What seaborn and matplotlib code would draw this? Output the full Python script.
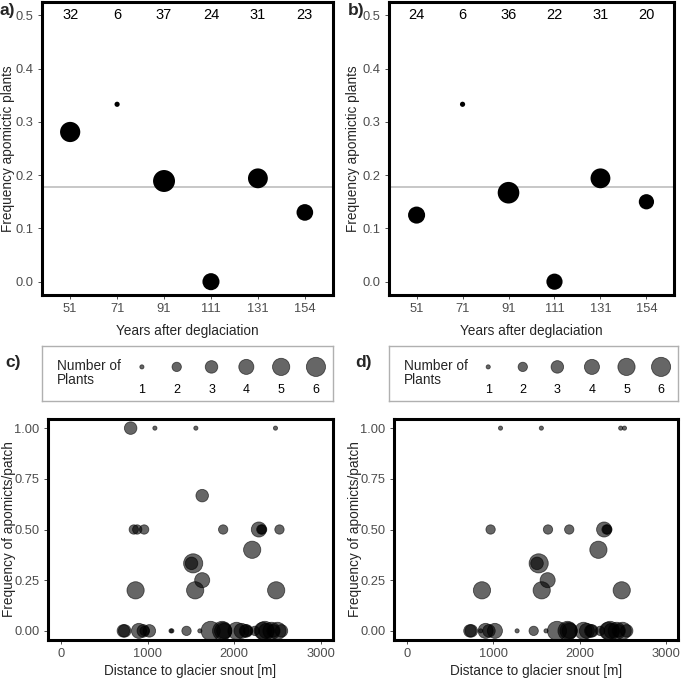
import matplotlib
import matplotlib.pyplot as plt
import numpy as np
import pandas as pd
import seaborn as sns

matplotlib.use("Agg")

# top panels: per-year frequency of apomictic plants
years = ["51", "71", "91", "111", "131", "154"]
freq_a = [0.281, 0.333, 0.189, 0.0, 0.194, 0.130]
n_a = [32, 6, 37, 24, 31, 23]
freq_b = [0.125, 0.333, 0.167, 0.0, 0.194, 0.150]
n_b = [24, 6, 36, 22, 31, 20]
overall_mean = 0.178

# bottom panels: per-patch frequency vs distance
dist_c = [804, 1084, 1557, 2476, 1630, 840, 880, 960, 1872, 2284, 2312, 2322, 2522,
          2207, 1526, 1507, 1630, 861, 1549, 2484,
          720, 735, 900, 950, 965, 1020, 1270, 1280, 1449, 1603, 1727, 1860, 1872, 1884,
          2026, 2084, 2130, 2142, 2160, 2238, 2330, 2353, 2370, 2430, 2450, 2499, 2545]
freq_c = [1.0, 1.0, 1.0, 1.0, 0.667, 0.5, 0.5, 0.5, 0.5, 0.5, 0.5, 0.5, 0.5,
          0.4, 0.333, 0.333, 0.25, 0.2, 0.2, 0.2,
          0, 0, 0, 0, 0, 0, 0, 0, 0, 0, 0, 0, 0, 0,
          0, 0, 0, 0, 0, 0, 0, 0, 0, 0, 0, 0, 0]
n_c = [3, 1, 1, 1, 3, 2, 2, 2, 2, 4, 2, 2, 2,
       5, 6, 3, 4, 5, 5, 5,
       3, 3, 4, 3, 2, 3, 1, 1, 2, 1, 6, 6, 5, 4,
       5, 4, 3, 3, 2, 2, 5, 6, 4, 5, 3, 5, 3]

dist_d = [1084, 1557, 2476, 2520, 969, 1634, 1880, 2284, 2312, 2322,
          2218, 1526, 1507, 1630, 869, 1561, 2488,
          730, 745, 854, 911, 950, 1019, 1276, 1468, 1611, 1738, 1860, 1872, 1884,
          2045, 2084, 2130, 2142, 2238, 2330, 2353, 2370, 2430, 2450, 2499, 2545]
freq_d = [1.0, 1.0, 1.0, 1.0, 0.5, 0.5, 0.5, 0.5, 0.5, 0.5,
          0.4, 0.333, 0.333, 0.25, 0.2, 0.2, 0.2,
          0, 0, 0, 0, 0, 0, 0, 0, 0, 0, 0, 0, 0,
          0, 0, 0, 0, 0, 0, 0, 0, 0, 0, 0, 0]
n_d = [1, 1, 1, 1, 2, 2, 2, 4, 2, 2,
       5, 6, 3, 4, 5, 5, 5,
       3, 3, 1, 4, 3, 4, 1, 2, 1, 6, 6, 5, 4,
       5, 4, 3, 3, 2, 5, 6, 4, 5, 3, 5, 3]

legend_sizes = [1, 2, 3, 4, 5, 6]

sns.set_theme(style="white")
plt.rcParams["font.family"] = ["Liberation Sans", "DejaVu Sans"]

W, H = 685, 682
fig = plt.figure(figsize=(W / 100, H / 100), dpi=100)


def px_axes(left, top, right, bottom):
    return fig.add_axes([left / W, 1 - bottom / H, (right - left) / W, (bottom - top) / H])


def style_axes(ax):
    for s in ax.spines.values():
        s.set_visible(True)
        s.set_color("black")
        s.set_linewidth(2.2)
    ax.tick_params(axis="both", length=3, width=0.6, color="#333333",
                   labelcolor="#4d4d4d", labelsize=9.3, direction="out",
                   bottom=True, left=True, pad=3)


def top_panel(ax, freq, n, label, ylab_x):
    df = pd.DataFrame({"year": years, "freq": freq, "n": n})
    ax.axhline(overall_mean, color="#bdbdbd", linewidth=1.2, zorder=1)
    sns.scatterplot(data=df, x="year", y="freq", size="n", sizes=(14, 250),
                    size_norm=(6, 37), color="black", edgecolor="none",
                    legend=False, ax=ax, zorder=3)
    for i, c in enumerate(n):
        ax.text(i, 0.5, str(c), ha="center", va="center", fontsize=10.5, color="black")
    ax.set_xlim(-0.6, 5.6)
    ax.set_ylim(-0.025, 0.525)
    ax.set_yticks(np.arange(0, 0.51, 0.1))
    ax.set_yticklabels([f"{v:.1f}" for v in np.arange(0, 0.51, 0.1)])
    ax.set_xlabel("Years after deglaciation", fontsize=9.8, labelpad=6)
    ax.set_ylabel("Frequency apomictic plants", fontsize=9.8)
    ax.yaxis.set_label_coords(ylab_x, 0.5)
    style_axes(ax)
    ax.text(-0.145, 0.97, label, transform=ax.transAxes, fontsize=12.5,
            fontweight="bold", ha="left", va="center")


def bottom_panel(ax, dist, freq, n, ylab_x):
    df = pd.DataFrame({"dist": dist, "freq": freq, "n": n})
    sns.scatterplot(data=df, x="dist", y="freq", size="n", sizes=(9, 190),
                    size_norm=(1, 6), color="black", alpha=0.6, edgecolor="black",
                    linewidth=0.6, legend=False, ax=ax)
    ax.set_xlim(-150, 3140)
    ax.set_ylim(-0.045, 1.045)
    ax.set_xticks([0, 1000, 2000, 3000])
    ax.set_yticks([0, 0.25, 0.5, 0.75, 1.0])
    ax.set_yticklabels(["0.00", "0.25", "0.50", "0.75", "1.00"])
    ax.set_xlabel("Distance to glacier snout [m]", fontsize=9.8, labelpad=3)
    ax.set_ylabel("Frequency of apomicts/patch", fontsize=9.8)
    ax.yaxis.set_label_coords(ylab_x, 0.5)
    style_axes(ax)


def size_legend(ax, label, lab_x):
    df = pd.DataFrame({"k": legend_sizes, "y": [0.62] * len(legend_sizes)})
    sns.scatterplot(data=df, x="k", y="y", size="k", sizes=(9, 190),
                    size_norm=(1, 6), color="black", alpha=0.6, edgecolor="black",
                    linewidth=0.6, legend=False, ax=ax)
    for k in legend_sizes:
        ax.text(k, 0.2, str(k), ha="center", va="center", fontsize=9, color="black")
    ax.text(-1.45, 0.5, "Number of\nPlants", ha="left", va="center", fontsize=9.8,
            linespacing=1.0)
    ax.set_xlim(-1.87, 6.49)
    ax.set_ylim(0, 1)
    ax.set_xticks([])
    ax.set_yticks([])
    ax.set_xlabel("")
    ax.set_ylabel("")
    for s in ax.spines.values():
        s.set_visible(True)
        s.set_color("#b0b0b0")
        s.set_linewidth(1.0)
    ax.text(lab_x, 0.7, label, transform=ax.transAxes, fontsize=12.5,
            fontweight="bold", ha="left", va="center")


ax_a = px_axes(42, 2, 333, 295)
top_panel(ax_a, freq_a, n_a, "a)", -0.093)
ax_b = px_axes(389, 2, 674, 295)
top_panel(ax_b, freq_b, n_b, "b)", -0.102)

leg_c = px_axes(42, 346, 333, 401)
size_legend(leg_c, "c)", -0.127)
leg_d = px_axes(389, 346, 678, 401)
size_legend(leg_d, "d)", -0.118)

ax_c = px_axes(48, 419, 333, 640)
bottom_panel(ax_c, dist_c, freq_c, n_c, -0.112)
ax_d = px_axes(394, 419, 678, 640)
bottom_panel(ax_d, dist_d, freq_d, n_d, -0.113)

fig.savefig("out.png", dpi=100)
plt.close(fig)
